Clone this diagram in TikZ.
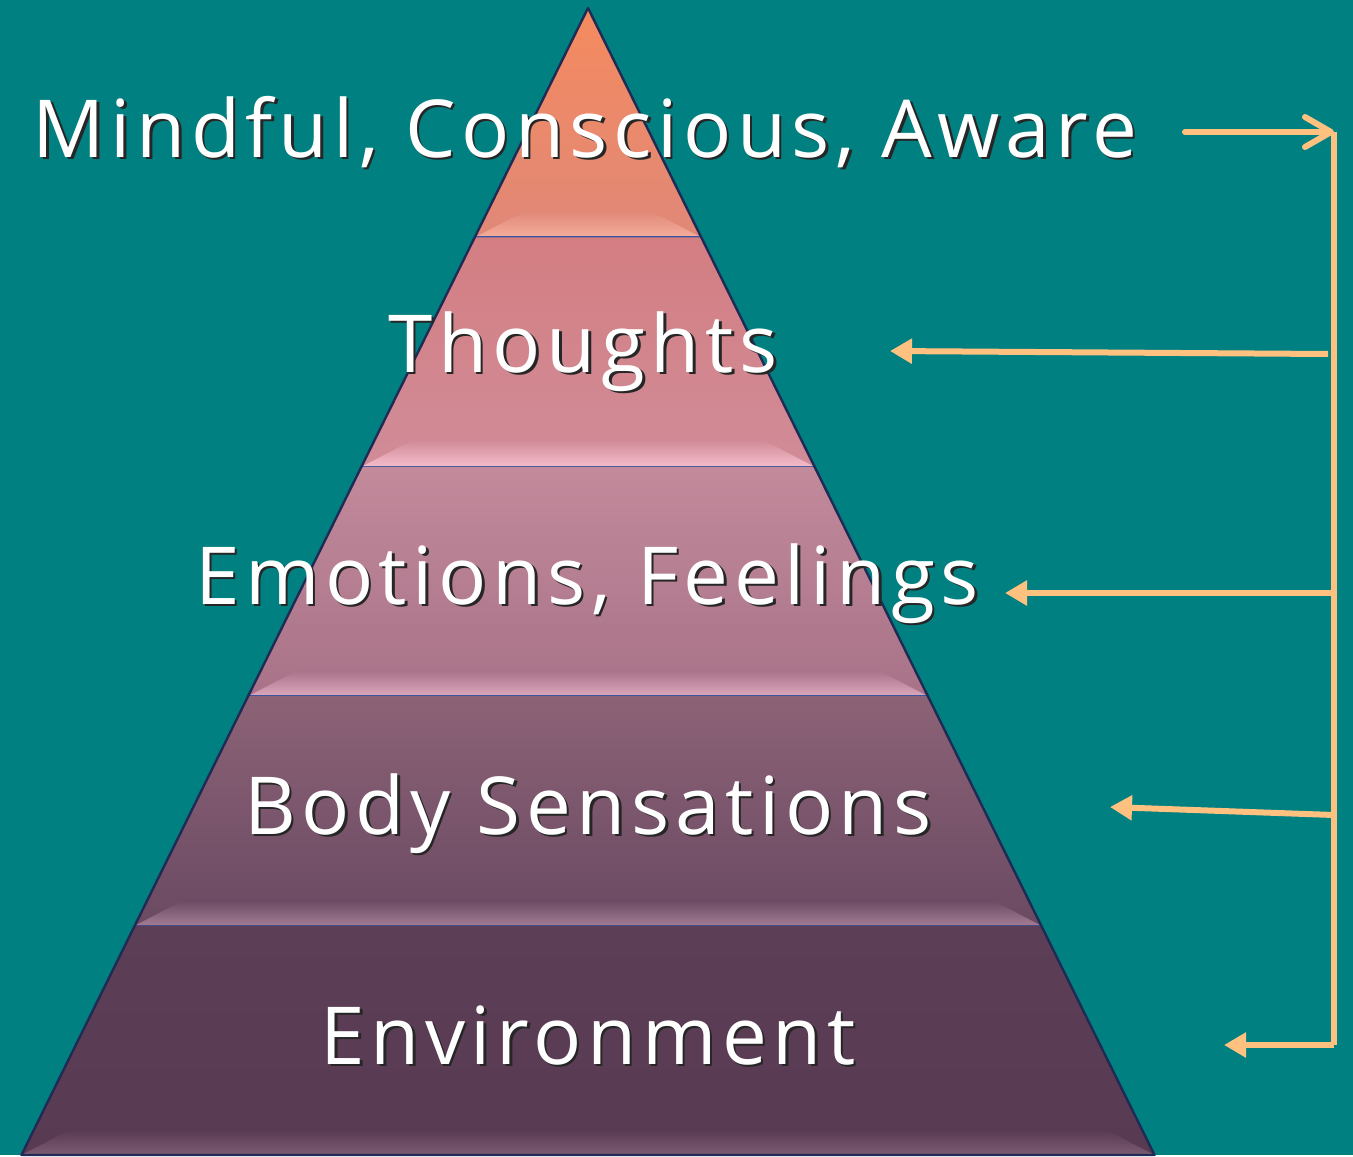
\documentclass[tikz,border=0pt]{standalone}
\usepackage{fontspec}
\usetikzlibrary{arrows.meta,calc}
\newfontfamily\levelfont[LetterSpace=7]{Open Sans}
\definecolor{pagebg}{HTML}{008080}
\definecolor{arrowc}{HTML}{FFC17F}
\definecolor{rimc}{HTML}{1F2A55}
\definecolor{seamc}{HTML}{3A55A0}
\definecolor{aTop}{HTML}{F58A5E}
\definecolor{aBot}{HTML}{E08878}
\definecolor{aBev}{HTML}{F6AE9C}
\definecolor{bTop}{HTML}{D47E82}
\definecolor{bBot}{HTML}{D08C98}
\definecolor{bBev}{HTML}{F6BCCB}
\definecolor{cTop}{HTML}{C28A9B}
\definecolor{cBot}{HTML}{A87288}
\definecolor{cBev}{HTML}{DCA6BC}
\definecolor{dTop}{HTML}{8C6276}
\definecolor{dBot}{HTML}{6A4A62}
\definecolor{dBev}{HTML}{A27C94}
\definecolor{eTop}{HTML}{5C3E57}
\definecolor{eBot}{HTML}{583A52}
\definecolor{eBev}{HTML}{7C5A74}
\newcommand{\shadowed}[1]{\makebox[0pt][l]{\hspace{1.3pt}\raisebox{-1.3pt}{\textcolor{black!85}{#1}}}#1}

\begin{document}
\begin{tikzpicture}[x=0.5pt,y=-0.5pt,
	level/.style={font=\levelfont\fontsize{40}{48}\selectfont, text=white, anchor=base, inner sep=0pt},
	link/.style={draw=arrowc, line width=3pt},
	seam/.style={draw=seamc, line width=1pt}]
		\fill[pagebg] (0,0) rectangle (1353,1155);
		\coordinate (apex) at (588,8);
		\coordinate (bl) at (21.5,1155);
		\coordinate (br) at (1154.5,1155);
		\foreach \t/\b/\ctop/\cbot/\cbev in {0/0.2/aTop/aBot/aBev, 0.2/0.4/bTop/bBot/bBev, 0.4/0.6/cTop/cBot/cBev, 0.6/0.8/dTop/dBot/dBev, 0.8/1/eTop/eBot/eBev} {
			\path ($(apex)!\t!(bl)$) coordinate (tl) ($(apex)!\t!(br)$) coordinate (tr)
				($(apex)!\b!(bl)$) coordinate (bbl) ($(apex)!\b!(br)$) coordinate (bbr);
			\shade[top color=\ctop, bottom color=\cbot] (tl) -- (tr) -- (bbr) -- (bbl) -- cycle;
			\shade[top color=\cbot, bottom color=\cbev] (bbl) -- (bbr) -- ++(-50,-26) -- ($(bbl)+(50,-26)$) -- cycle;
			\draw[seam] (bbl) -- (bbr);
		}
		\draw[rimc, line width=1.2pt, line join=round] (apex) -- (bl) -- (br) -- cycle;
		\node[level] (mindful) at (585,157) {\shadowed{Mindful, Conscious, Aware}};
		\node[level] (thoughts) at (583,372) {\shadowed{Thoughts}};
		\node[level] (emotions) at (587,604) {\shadowed{Emotions, Feelings}};
		\node[level] (body) at (588,834) {\shadowed{Body Sensations}};
		\node[level] (environment) at (588,1064) {\shadowed{Environment}};
		\coordinate (awarein) at (1185,132);
		\coordinate (spinetop) at (1334,132);
		\coordinate (spinebot) at (1334,1045);
		\coordinate (thoughtsout) at (1328,354);
		\coordinate (thoughtstip) at (890,351);
		\coordinate (emotionsout) at (1334,593);
		\coordinate (emotionstip) at (1005,593);
		\coordinate (bodyout) at (1334,815);
		\coordinate (bodytip) at (1110,807);
		\coordinate (environmenttip) at (1224,1045);
		\draw[link, line cap=round, -{Straight Barb[length=13pt, width=15pt, line cap=round, line join=round]}] (awarein) -- (spinetop);
		\draw[link] (spinetop) -- (spinebot);
		\draw[link, -{Triangle[length=11pt, width=12pt]}] (thoughtsout) -- (thoughtstip);
		\draw[link, -{Triangle[length=11pt, width=12pt]}] (emotionsout) -- (emotionstip);
		\draw[link, -{Triangle[length=11pt, width=12pt]}] (bodyout) -- (bodytip);
		\draw[link, -{Triangle[length=11pt, width=12pt]}] (spinebot) -- (environmenttip);
	\end{tikzpicture}
\end{document}
